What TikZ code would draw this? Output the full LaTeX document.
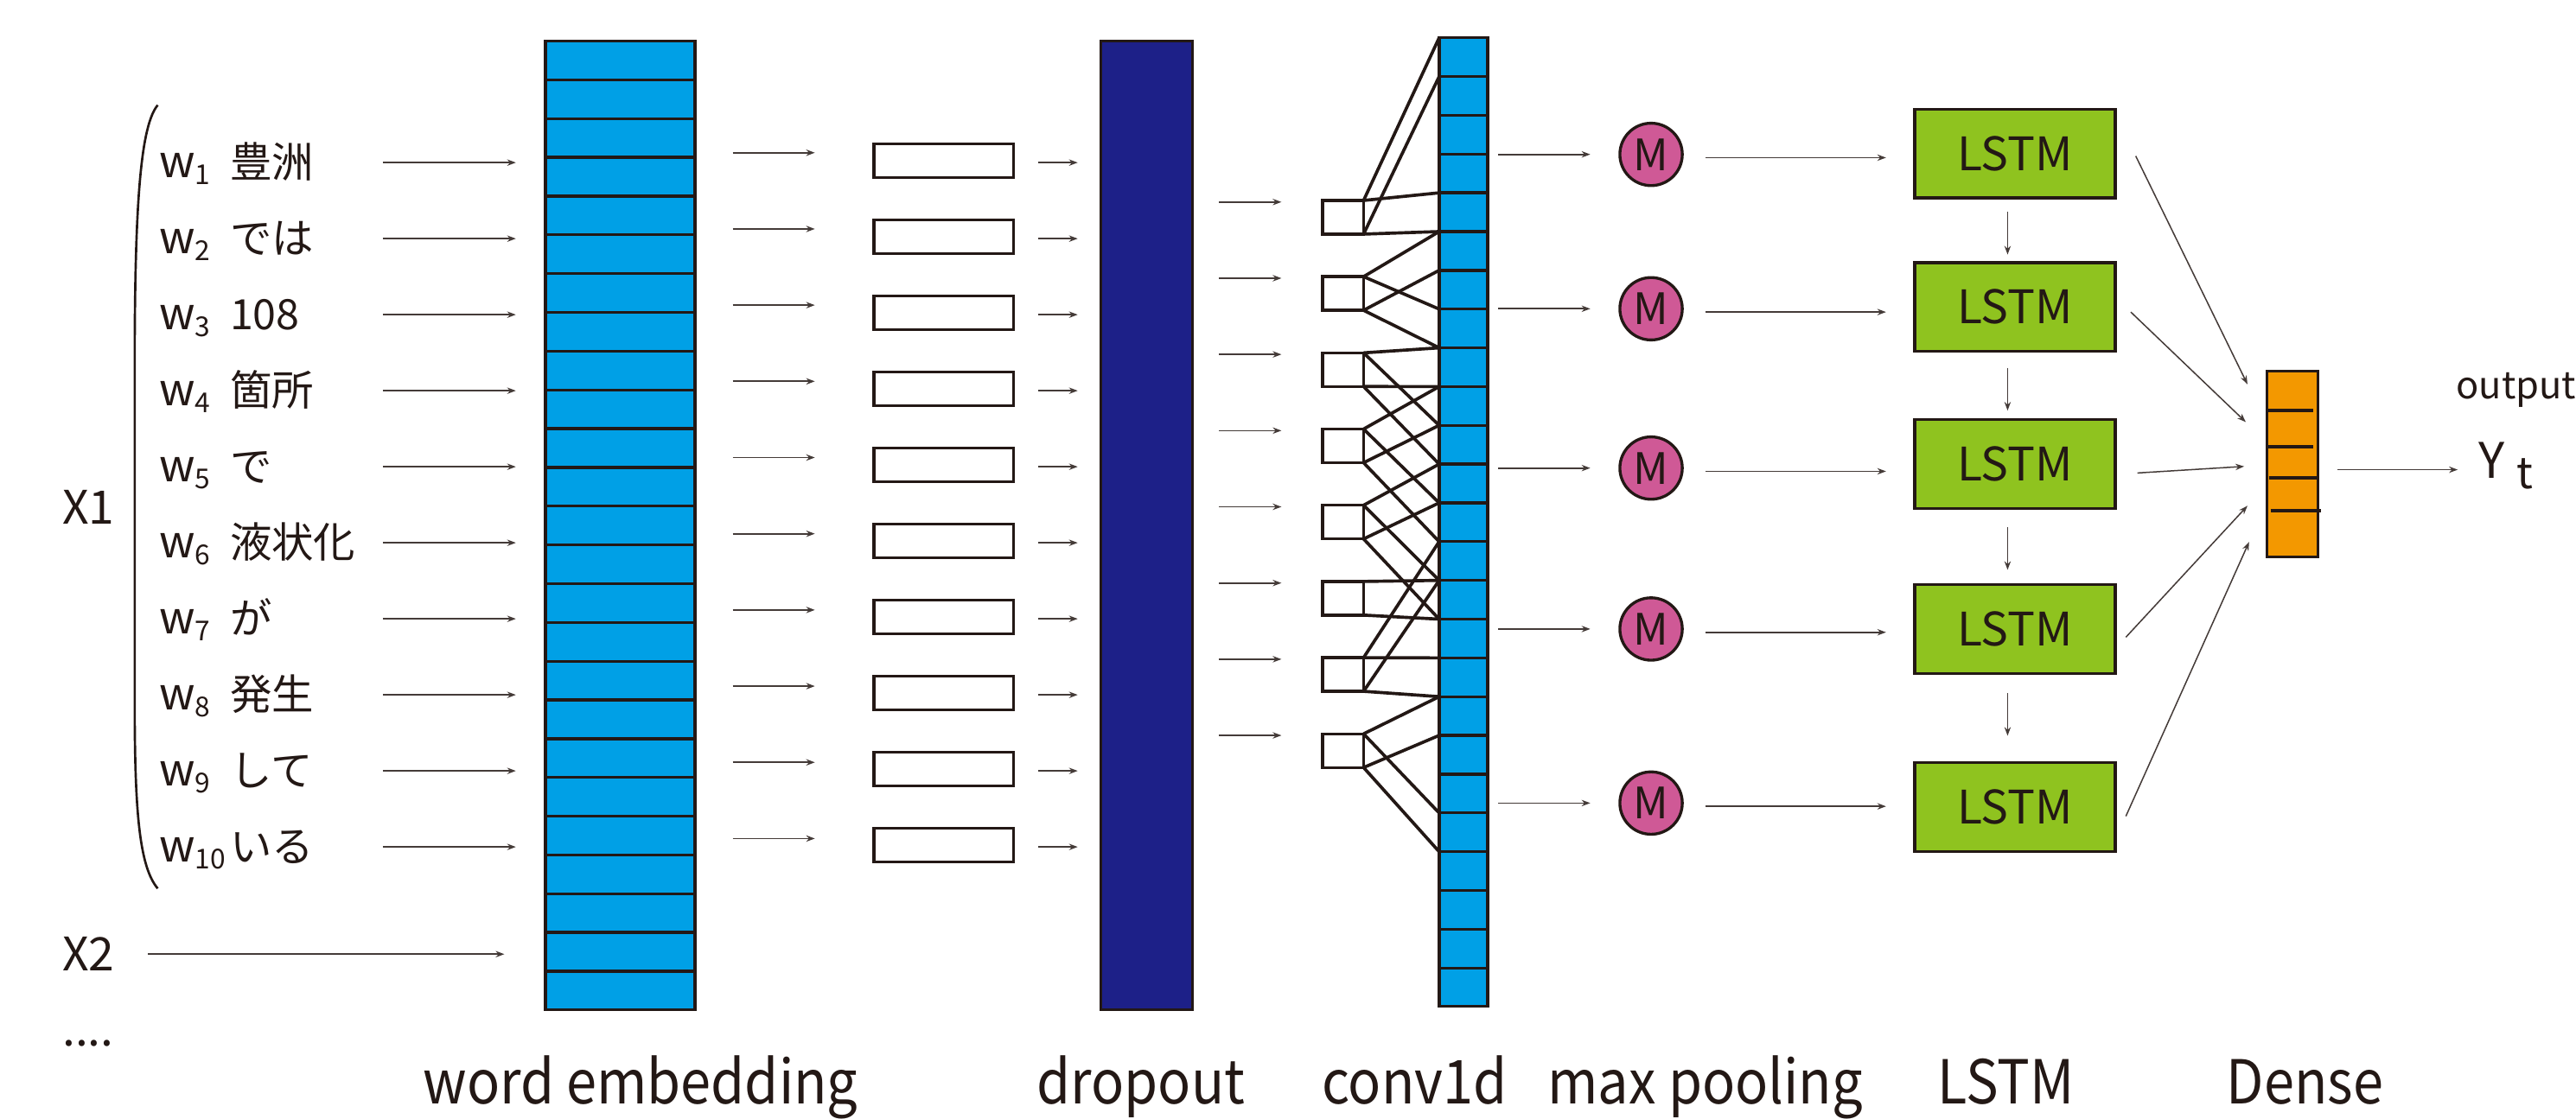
\documentclass[tikz,border=0pt]{standalone}
\usepackage{fontspec}
\setmainfont{Noto Sans CJK JP}
\newfontfamily\layerfont[FakeStretch=0.9]{Noto Sans CJK JP}
\usetikzlibrary{arrows.meta}

\definecolor{ink}{RGB}{35,24,21}
\definecolor{embblue}{RGB}{0,160,230}
\definecolor{dropblue}{RGB}{29,32,136}
\definecolor{poolpink}{RGB}{207,89,150}
\definecolor{lstmgreen}{RGB}{143,195,31}
\definecolor{denseorange}{RGB}{243,152,0}

\newcommand\wlabel[1]{w\raisebox{-2.6pt}{\fontsize{9.5}{10}\selectfont #1}}

\tikzset{
  every node/.style={text=ink, inner sep=0pt, outer sep=0pt},
  flow/.style={draw=ink!85, line width=0.5pt, -{Stealth[length=3pt,width=2.2pt]}},
  box/.style={draw=ink, line width=1pt},
  wire/.style={draw=ink, line width=1.1pt},
  wordfont/.style={font=\fontsize{15.5}{16}\selectfont},
  jpfont/.style={font=\fontsize{14.5}{16}\selectfont},
  sidefont/.style={font=\fontsize{16}{18}\selectfont},
  layername/.style={font=\layerfont\fontsize{21}{24}\selectfont, anchor=base},
  column/.style={box, anchor=north west, minimum height=11.8cm},
}

\begin{document}
\begin{tikzpicture}[x=0.02cm, y=-0.02cm]
\useasboundingbox (0,0) rectangle (1568,681);

% ---- input sentence X1 and its words ----
\foreach \w [count=\n from 1] in {豊洲,では,108,箇所,で,液状化,が,発生,して,いる} {
  \pgfmathsetmacro\yb{108+46.3*(\n-1)}
  \pgfmathsetmacro\ya{99+46.3*(\n-1)}
  \node[wordfont, anchor=base west] (w\n) at (97,\yb) {\wlabel{\n}};
  \node[jpfont, anchor=base west] (t\n) at (140,\yb) {\w};
  \coordinate (ws\n) at (233,\ya);
  \coordinate (we\n) at (314,\ya);
  \draw[flow] (ws\n) -- (we\n);
}
\draw[draw=ink, line width=0.8pt] (96,64) .. controls (86,76) and (82,120) .. (82,220)
  -- (82,430) .. controls (82,495) and (85,528) .. (96,541);
\node[sidefont, anchor=base west] (x1) at (38,319) {X1};
\node[sidefont, anchor=base west] (x2) at (38,591) {X2};
\node[sidefont, anchor=base west] (more) at (38,637) {....};
\coordinate (x2s) at (90,581);
\coordinate (x2e) at (307,581);
\draw[flow] (x2s) -- (x2e);

% ---- word embedding ----
\node[column, fill=embblue, minimum width=1.82cm] (emb) at (332,25) {};
\foreach \k in {1,...,24} \draw[box] (332,25+23.6*\k) -- (423,25+23.6*\k);

% ---- embedded vectors ----
\foreach \n in {1,...,10} {
  \pgfmathsetmacro\ya{93+46.4*(\n-1)}
  \pgfmathsetmacro\yr{98+46.3*(\n-1)}
  \pgfmathsetmacro\yc{99+46.3*(\n-1)}
  \coordinate (es\n) at (446,\ya);
  \coordinate (ee\n) at (496,\ya);
  \draw[flow] (es\n) -- (ee\n);
  \node[box, minimum width=1.7cm, minimum height=0.41cm] (r\n) at (574.5,\yr) {};
  \coordinate (rs\n) at (632,\yc);
  \coordinate (re\n) at (656,\yc);
  \draw[flow] (rs\n) -- (re\n);
}

% ---- dropout ----
\node[column, fill=dropblue, minimum width=1.12cm] (drop) at (670,25) {};

% ---- conv1d filters ----
\foreach \n in {1,...,8} {
  \pgfmathsetmacro\ya{123+46.4*(\n-1)}
  \pgfmathsetmacro\ys{132.3+46.4*(\n-1)}
  \coordinate (ds\n) at (742,\ya);
  \coordinate (de\n) at (780,\ya);
  \draw[flow] (ds\n) -- (de\n);
  \node[box, minimum width=0.5cm, minimum height=0.41cm] (sq\n) at (817.5,\ys) {};
}
\foreach \k in {0,...,25} \coordinate (cb\k) at (876,23+23.6*\k);
\foreach \s/\c/\b in {1/north east/0, 1/north east/4, 1/south east/1, 1/south east/5,
                      2/north east/5, 2/north east/7, 2/south east/6, 2/south east/8,
                      3/north east/8, 3/north east/10, 3/south east/9, 3/south east/11,
                      4/north east/9, 4/north east/12, 4/south east/10, 4/south east/13,
                      5/north east/11, 5/north east/14, 5/south east/12, 5/south east/15,
                      6/north east/14, 6/south east/15,
                      7/north east/13, 7/north east/16, 7/south east/14, 7/south east/17,
                      8/north east/17, 8/north east/20, 8/south east/18, 8/south east/21}
  \draw[wire] (sq\s.\c) -- (cb\b);
\node[column, fill=embblue, minimum width=0.59cm] (conv) at (876,23) {};
\foreach \k in {1,...,24} \draw[box] (876,23+23.6*\k) -- (905.5,23+23.6*\k);

% ---- max pooling and LSTM chain ----
\foreach \y/\ly [count=\n from 1] in {94/93.5, 188/187, 285/282.5, 383/383, 489/491.5} {
  \coordinate (cs\n) at (912,\y);
  \coordinate (ce\n) at (968,\y);
  \draw[flow] (cs\n) -- (ce\n);
  \node[circle, draw=ink, line width=1pt, fill=poolpink, minimum size=0.76cm,
        font=\fontsize{15}{16}\selectfont] (m\n) at (1005,\y) {M};
  \coordinate (ms\n) at (1038,\y+2);
  \coordinate (me\n) at (1148,\y+2);
  \draw[flow] (ms\n) -- (me\n);
  \node[box, fill=lstmgreen, minimum width=2.44cm, minimum height=1.08cm,
        font=\fontsize{16}{18}\selectfont] (l\n) at (1226.5,\ly) {LSTM};
}
\foreach \a/\b [count=\n from 1] in {129/155, 224/250, 321/347, 422/448} {
  \coordinate (vs\n) at (1222,\a);
  \coordinate (ve\n) at (1222,\b);
  \draw[flow] (vs\n) -- (ve\n);
}

% ---- dense layer ----
\node[box, fill=denseorange, minimum width=0.62cm, minimum height=2.26cm] (dense) at (1395.5,282.5) {};
\draw[box] (1379,250) -- (1408,250);
\draw[box] (1379,272) -- (1408,272);
\draw[box] (1381,291) -- (1410,291);
\draw[box] (1382,311) -- (1413,311);
\foreach \xa/\ya/\xb/\yb [count=\n from 1] in {1300/95/1368/234, 1297/190/1367/257,
    1301/288/1366/284, 1294/388/1368/308, 1294/497/1369/330} {
  \coordinate (ls\n) at (\xa,\ya);
  \coordinate (le\n) at (\xb,\yb);
  \draw[flow, line width=0.45pt] (ls\n) -- (le\n);
}
\coordinate (os) at (1423,286);
\coordinate (oe) at (1496,286);
\draw[flow] (os) -- (oe);
\node[font=\fontsize{17}{18}\selectfont, anchor=base west] (yt) at (1509,291)
  {Y\hspace{4pt}\raisebox{-3.7pt}{\fontsize{15}{16}\selectfont t}};
\node[font=\fontsize{13}{14}\selectfont, anchor=base] (outlbl) at (1531.5,243) {output};

% ---- layer names ----
\node[layername] (n1) at (390,672) {word embedding};
\node[layername] (n2) at (694.5,672) {dropout};
\node[layername] (n3) at (861,672) {conv1d};
\node[layername] (n4) at (1038,672) {max pooling};
\node[layername] (n5) at (1221,672) {LSTM};
\node[layername] (n6) at (1403,672) {Dense};
\end{tikzpicture}
\end{document}
